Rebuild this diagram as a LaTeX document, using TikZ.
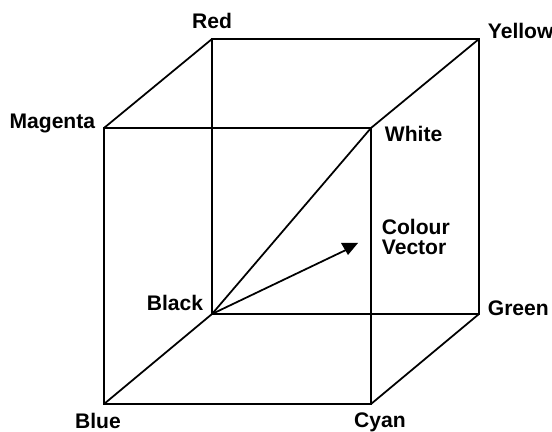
\documentclass[tikz,border=0pt]{standalone}
\usepackage{fontspec}
\setmainfont{Liberation Sans}
\usetikzlibrary{positioning}

\begin{document}
\begin{tikzpicture}[x=0.02cm, y=-0.02cm, line width=1pt, line join=miter,
    lab/.style={font=\bfseries\fontsize{12}{11.2}\selectfont, inner sep=0pt, align=left}]
    \useasboundingbox (0,0) rectangle (552,432);
    % corners of the cube
    \coordinate (black) at (212,314);
    \coordinate (red) at (212,39);
    \coordinate (yellow) at (479,39);
    \coordinate (green) at (479,314);
    \coordinate (magenta) at (104,128);
    \coordinate (white) at (371,128);
    \coordinate (blue) at (104,404);
    \coordinate (cyan) at (371,404);
    \coordinate (vectip) at (348,249);
    % edges
    \draw (magenta) -- (white) -- (cyan) -- (blue) -- cycle;
    \draw (red) -- (yellow) -- (green) -- (black) -- cycle;
    \draw (magenta) -- (red);
    \draw (white) -- (yellow);
    \draw (blue) -- (black);
    \draw (cyan) -- (green);
    \draw (black) -- (white);
    \draw (black) -- (vectip);
    \fill (341,243) -- (358,243) -- (348,255) -- cycle;
    % labels
    \node[lab] (redlab) at (212,21) {Red};
    \node[lab, anchor=west] (yellowlab) at (487,31) {Yellow};
    \node[lab, anchor=east] (magentalab) at (96,123) {Magenta};
    \node[lab, anchor=west] (whitelab) at (384,134) {White};
    \node[lab, anchor=west] (veclab) at (381,237) {Colour\\Vector};
    \node[lab, anchor=east] (blacklab) at (204,303) {Black};
    \node[lab, anchor=west] (greenlab) at (487,308) {Green};
    \node[lab] (bluelab) at (98,421) {Blue};
    \node[lab] (cyanlab) at (380,422) {Cyan};
\end{tikzpicture}
\end{document}
